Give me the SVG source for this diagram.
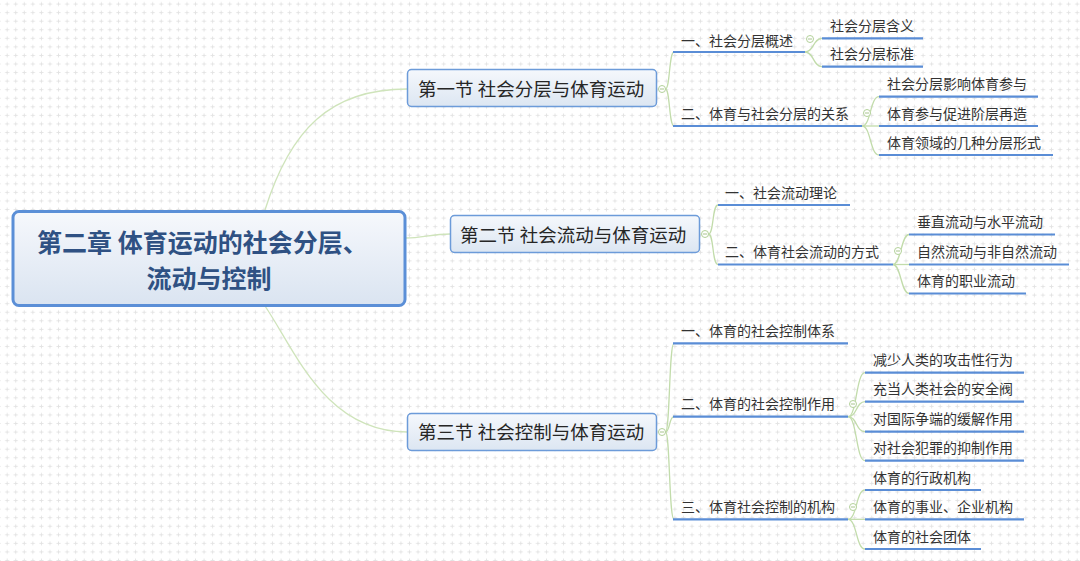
<svg xmlns="http://www.w3.org/2000/svg" width="1080" height="561" viewBox="0 0 1080 561">
<defs>
<pattern id="grid" patternUnits="userSpaceOnUse" x="2.9" y="-0.2" width="8.56" height="8.56">
<path d="M2.28 4.28h4M4.28 2.28v4" stroke="#e3e3e3" stroke-width="1" fill="none"/>
</pattern>
<linearGradient id="gRoot" x1="0" y1="0" x2="0" y2="1">
<stop offset="0" stop-color="#f6f8fc"/><stop offset="1" stop-color="#dae4f1"/>
</linearGradient>
<linearGradient id="gSec" x1="0" y1="0" x2="0" y2="1">
<stop offset="0" stop-color="#f5f8fc"/><stop offset="1" stop-color="#dce6f2"/>
</linearGradient>
</defs>
<style>
text{font-family:"Noto Sans CJK SC","Noto Sans",sans-serif;}
.root{font-size:25px;font-weight:700;fill:#2f5183;}
.sec{font-size:18.5px;fill:#262626;}
.t{font-size:14px;fill:#333333;}
.rootbox{fill:url(#gRoot);stroke:#5b8fd7;stroke-width:3;}
.secbox{fill:url(#gSec);stroke:#6c9bd9;stroke-width:1.5;}
.ul{stroke:#5a8dd6;stroke-width:2.2;fill:none;}
.c1{stroke:#cfe4bb;stroke-width:1.3;fill:none;}
.c2{stroke:#c2dcab;stroke-width:1.3;fill:none;}
.btn circle{fill:#ffffff;stroke:#b3d19a;stroke-width:1;}
.btn path{stroke:#a8c48e;stroke-width:1;}
</style>
<rect width="1080" height="561" fill="#ffffff"/>
<rect width="1080" height="561" fill="url(#grid)"/>

<g id="connectors">
<path class="c1" d="M265,210 C290,130 330,89 407,89"/>
<path class="c1" d="M406,238 C422,238 432,234 450,234"/>
<path class="c1" d="M265,306 C295,350 325,432 407,432"/>
<path class="c2" d="M665.5,89 C670,89 669,52 674,52"/>
<path class="c2" d="M665.5,89 C670,89 669,126 674,126"/>
<path class="c2" d="M805,52 C814,52 813,38.3 822,38.3"/>
<path class="c2" d="M805,52 C814,52 813,66.7 822,66.7"/>
<path class="c2" d="M862,126 C871,126 870,96.7 879,96.7"/>
<path class="c2" d="M862,126 L879,126"/>
<path class="c2" d="M862,126 C871,126 870,155 879,155"/>
<path class="c2" d="M708.5,234 C714,234 712,205 718,205"/>
<path class="c2" d="M708.5,234 C714,234 712,264.5 718,264.5"/>
<path class="c2" d="M893,264.5 C901,264.5 901,234.5 909,234.5"/>
<path class="c2" d="M893,264.5 L909,264.5"/>
<path class="c2" d="M893,264.5 C901,264.5 901,293.5 909,293.5"/>
<path class="c2" d="M665.5,432 C670,432 669,343.3 674,343.3"/>
<path class="c2" d="M665.5,432 C670,432 669,416.7 674,416.7"/>
<path class="c2" d="M665.5,432 C670,432 669,519.3 674,519.3"/>
<path class="c2" d="M848,416.7 C857,416.7 856,372.7 865,372.7"/>
<path class="c2" d="M848,416.7 C857,416.7 856,401.7 865,401.7"/>
<path class="c2" d="M848,416.7 C857,416.7 856,431.7 865,431.7"/>
<path class="c2" d="M848,416.7 C857,416.7 856,460.7 865,460.7"/>
<path class="c2" d="M848,519.3 C857,519.3 856,490 865,490"/>
<path class="c2" d="M848,519.3 L865,519.3"/>
<path class="c2" d="M848,519.3 C857,519.3 856,549 865,549"/>
</g>

<g id="root">
<rect class="rootbox" x="13" y="211.5" width="392" height="94" rx="6"/>
<text class="root" x="37" y="251.5">第二章 体育运动的社会分层、</text>
<text class="root" x="209" y="287.5" text-anchor="middle">流动与控制</text>
</g>

<g id="s1">
<rect class="secbox" x="407.5" y="69.5" width="249" height="37" rx="4"/>
<text class="sec" x="418" y="96">第一节 社会分层与体育运动</text>
<g class="btn"><circle cx="662" cy="89" r="3.5"/><path d="M660,89h4"/></g>
</g>
<g id="s1a">
<text class="t" x="681" y="45.5">一、社会分层概述</text>
<path class="ul" d="M673,52H805"/>
<g class="btn"><circle cx="810" cy="39" r="3.5"/><path d="M808,39h4"/></g>
</g>
<g id="s1a1"><text class="t" x="830" y="31">社会分层含义</text><path class="ul" d="M822,38.3H923"/></g>
<g id="s1a2"><text class="t" x="830" y="59.2">社会分层标准</text><path class="ul" d="M822,66.7H923"/></g>
<g id="s1b">
<text class="t" x="681" y="118.5">二、体育与社会分层的关系</text>
<path class="ul" d="M673,126H862"/>
<g class="btn"><circle cx="867" cy="113" r="3.5"/><path d="M865,113h4"/></g>
</g>
<g id="s1b1"><text class="t" x="887" y="89.2">社会分层影响体育参与</text><path class="ul" d="M879,96.7H1038"/></g>
<g id="s1b2"><text class="t" x="887" y="118.5">体育参与促进阶层再造</text><path class="ul" d="M879,126H1038"/></g>
<g id="s1b3"><text class="t" x="887" y="147.5">体育领域的几种分层形式</text><path class="ul" d="M879,155H1053"/></g>

<g id="s2">
<rect class="secbox" x="450.5" y="215.5" width="249" height="37" rx="4"/>
<text class="sec" x="460" y="241.5">第二节 社会流动与体育运动</text>
<g class="btn"><circle cx="705" cy="234" r="3.5"/><path d="M703,234h4"/></g>
</g>
<g id="s2a"><text class="t" x="725" y="197.5">一、社会流动理论</text><path class="ul" d="M718,205H850"/></g>
<g id="s2b">
<text class="t" x="725" y="257">二、体育社会流动的方式</text>
<path class="ul" d="M718,264.5H893"/>
<g class="btn"><circle cx="898" cy="251" r="3.5"/><path d="M896,251h4"/></g>
</g>
<g id="s2b1"><text class="t" x="917" y="227">垂直流动与水平流动</text><path class="ul" d="M909,234.5H1055"/></g>
<g id="s2b2"><text class="t" x="917" y="257">自然流动与非自然流动</text><path class="ul" d="M909,264.5H1069"/></g>
<g id="s2b3"><text class="t" x="917" y="286">体育的职业流动</text><path class="ul" d="M909,293.5H1026"/></g>

<g id="s3">
<rect class="secbox" x="407.5" y="413.5" width="249" height="37" rx="4"/>
<text class="sec" x="418" y="439">第三节 社会控制与体育运动</text>
<g class="btn"><circle cx="662" cy="432" r="3.5"/><path d="M660,432h4"/></g>
</g>
<g id="s3a"><text class="t" x="681" y="335.8">一、体育的社会控制体系</text><path class="ul" d="M673,343.3H848"/></g>
<g id="s3b">
<text class="t" x="681" y="409.2">二、体育的社会控制作用</text>
<path class="ul" d="M673,416.7H848"/>
<g class="btn"><circle cx="853" cy="404" r="3.5"/><path d="M851,404h4"/></g>
</g>
<g id="s3b1"><text class="t" x="873" y="365.2">减少人类的攻击性行为</text><path class="ul" d="M865,372.7H1024"/></g>
<g id="s3b2"><text class="t" x="873" y="394.2">充当人类社会的安全阀</text><path class="ul" d="M865,401.7H1024"/></g>
<g id="s3b3"><text class="t" x="873" y="424.2">对国际争端的缓解作用</text><path class="ul" d="M865,431.7H1024"/></g>
<g id="s3b4"><text class="t" x="873" y="453.2">对社会犯罪的抑制作用</text><path class="ul" d="M865,460.7H1024"/></g>
<g id="s3c">
<text class="t" x="681" y="511.8">三、体育社会控制的机构</text>
<path class="ul" d="M673,519.3H848"/>
<g class="btn"><circle cx="853" cy="507" r="3.5"/><path d="M851,507h4"/></g>
</g>
<g id="s3c1"><text class="t" x="873" y="482.5">体育的行政机构</text><path class="ul" d="M865,490H981"/></g>
<g id="s3c2"><text class="t" x="873" y="511.8">体育的事业、企业机构</text><path class="ul" d="M865,519.3H1024"/></g>
<g id="s3c3"><text class="t" x="873" y="541.5">体育的社会团体</text><path class="ul" d="M865,549H981"/></g>
</svg>
